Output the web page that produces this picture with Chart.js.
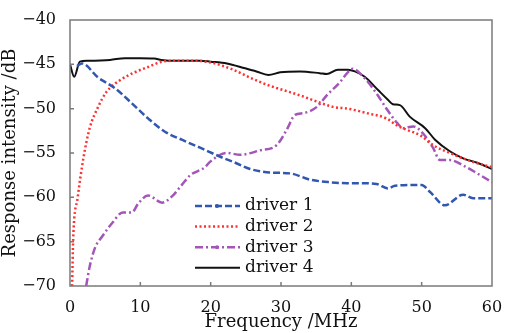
<!DOCTYPE html>
<html lang="en">
<head>
    <meta charset="UTF-8">
    <title>Driver response</title>
    <script src="https://cdn.jsdelivr.net/npm/chart.js"></script>
    <style>
        body {
            margin: 0;
            background: #fff;
        }
        #chart {
            display: block;
        }
    </style>
</head>
<body>
    <canvas id="chart" width="507" height="333"></canvas>

    <script>
        // values (frequency in MHz, level in dB)
        const seriesNames = ['driver 1', 'driver 2', 'driver 3', 'driver 4'];

        const d1Freq = [1, 1.7, 4, 6.4, 8.8, 11.1, 13.5, 15.9, 18.5, 21.3, 23.5, 25.6, 28.4, 31.3, 34.1, 37, 39.4, 41.2, 43.6, 45.2, 46.2, 50, 51.2, 53.3, 55.9, 57.3, 60];
        const d1Vals = [-45.2, -44.9, -46.5, -47.7, -49.4, -51.1, -52.6, -53.5, -54.4, -55.4, -56.1, -56.8, -57.2, -57.3, -58.0, -58.3, -58.4, -58.4, -58.5, -59.0, -58.7, -58.6, -59.4, -60.9, -59.7, -60.1, -60.1];

        const d2Freq = [0.3, 0.45, 1.1, 1.9, 2.8, 4, 5.2, 7.1, 9.2, 11.1, 13.1, 15, 18, 20.3, 23.2, 25.6, 28, 30.3, 32.7, 35.1, 37.4, 39.5, 42.2, 45, 46.5, 47.9, 49.8, 51.6, 54, 57.3, 60];
        const d2Vals = [-70, -64.8, -60, -55.6, -52.2, -49.8, -48.1, -46.8, -45.9, -45.3, -44.7, -44.6, -44.6, -44.85, -45.6, -46.5, -47.3, -47.9, -48.5, -49.2, -49.8, -50.0, -50.5, -51.1, -51.9, -52.4, -53.0, -54.1, -55.0, -56.0, -56.6];

        const d3Freq = [2.3, 2.8, 3.6, 4.5, 6, 7.5, 8.8, 9.7, 11.1, 13.1, 14.5, 15.9, 17.1, 19.2, 19.9, 22.3, 24.2, 27, 29.4, 30.8, 32, 33.2, 35.1, 36.5, 38.4, 39.5, 40.2, 41.7, 43.6, 45, 46.5, 47.4, 48.8, 50.2, 51.6, 52.6, 54, 55.9, 57.9, 60];
        const d3Vals = [-70, -67.8, -65.6, -64.5, -62.9, -61.7, -61.7, -60.7, -59.8, -60.6, -59.9, -58.6, -57.5, -56.6, -56.0, -55.0, -55.2, -54.7, -54.1, -52.4, -50.7, -50.5, -49.8, -48.5, -47.0, -45.9, -45.5, -46.4, -48.3, -50.0, -51.6, -52.2, -52.0, -52.8, -54.4, -55.8, -55.8, -56.4, -57.3, -58.3];

        const d4Freq = [0, 0.6, 1.4, 2.5, 5.7, 7.8, 10, 12, 13, 15, 18.5, 20, 22.3, 24.9, 26.5, 28.2, 29.9, 32.7, 35.5, 36.5, 38.1, 39.5, 40.5, 41.9, 43.8, 45.2, 45.9, 46.9, 48.3, 50.5, 51.9, 54, 55.9, 57.9, 60];
        const d4Vals = [-45.0, -46.4, -44.7, -44.6, -44.5, -44.3, -44.3, -44.35, -44.5, -44.6, -44.6, -44.7, -44.9, -45.45, -45.8, -46.2, -45.9, -45.8, -46.0, -46.1, -45.6, -45.6, -45.8, -46.4, -47.9, -49.0, -49.5, -49.6, -50.9, -52.2, -53.5, -54.8, -55.6, -56.1, -56.8];

        const xTicks = [0, 10, 20, 30, 40, 50, 60];
        const yTicks = [-70, -65, -60, -55, -50, -45, -40];

        const serif = "'DejaVu Serif', serif";

        function points(xs, ys) {
            return xs.map((x, i) => ({ x: x, y: ys[i] }));
        }

        // legend inside the plot + frame and inward ticks
        const framePlugin = {
            id: 'frame',
            afterDraw(chart) {
                const ctx = chart.ctx;
                const a = chart.chartArea;
                const xs = chart.scales.x;
                const ys = chart.scales.y;
                ctx.save();
                ctx.strokeStyle = '#7a7a7a';
                ctx.lineWidth = 1.5;
                ctx.strokeRect(a.left, a.top, a.right - a.left, a.bottom - a.top);
                ctx.beginPath();
                xTicks.slice(1, -1).forEach(v => {
                    const px = xs.getPixelForValue(v);
                    ctx.moveTo(px, a.bottom);
                    ctx.lineTo(px, a.bottom - 4);
                });
                yTicks.slice(1, -1).forEach(v => {
                    const py = ys.getPixelForValue(v);
                    ctx.moveTo(a.left, py);
                    ctx.lineTo(a.left + 4, py);
                });
                ctx.stroke();

                // legend
                chart.data.datasets.forEach((ds, i) => {
                    const y = 206 + i * 20.6;
                    ctx.strokeStyle = ds.borderColor;
                    ctx.lineWidth = ds.borderWidth;
                    ctx.setLineDash(ds.borderDash || []);
                    ctx.beginPath();
                    ctx.moveTo(195, y);
                    ctx.lineTo(240, y);
                    ctx.stroke();
                    ctx.setLineDash([]);
                    if (ds.legendDot) {
                        ctx.fillStyle = ds.borderColor;
                        ctx.beginPath();
                        ctx.arc(217, y, 2, 0, Math.PI * 2);
                        ctx.fill();
                    }
                    ctx.fillStyle = '#111';
                    ctx.font = '17px ' + serif;
                    ctx.textBaseline = 'middle';
                    ctx.textAlign = 'left';
                    ctx.fillText(ds.label, 245, y);
                });
                ctx.restore();
            }
        };

        const ctx = document.getElementById('chart').getContext('2d');
        new Chart(ctx, {
            type: 'line',
            data: {
                datasets: [
                    {
                        label: seriesNames[0],
                        data: points(d1Freq, d1Vals),
                        borderColor: '#3157b0',
                        borderWidth: 2.5,
                        borderDash: [7, 3],
                        legendDot: true
                    },
                    {
                        label: seriesNames[1],
                        data: points(d2Freq, d2Vals),
                        borderColor: '#ff3030',
                        borderWidth: 2.5,
                        borderDash: [2, 2.5]
                    },
                    {
                        label: seriesNames[2],
                        data: points(d3Freq, d3Vals),
                        borderColor: '#a455b8',
                        borderWidth: 2.5,
                        borderDash: [8, 3, 2, 3],
                        legendDot: true
                    },
                    {
                        label: seriesNames[3],
                        data: points(d4Freq, d4Vals),
                        borderColor: '#111111',
                        borderWidth: 2
                    }
                ]
            },
            options: {
                responsive: false,
                animation: false,
                layout: { padding: { top: 20, right: 15, left: 0, bottom: 0 } },
                elements: {
                    point: { radius: 0 },
                    line: { cubicInterpolationMode: 'monotone', fill: false }
                },
                plugins: {
                    legend: { display: false },
                    tooltip: { enabled: false }
                },
                scales: {
                    x: {
                        type: 'linear',
                        min: 0,
                        max: 60,
                        afterBuildTicks: s => { s.ticks = xTicks.map(v => ({ value: v })); },
                        afterFit: s => { s.height = 47; },
                        grid: { display: false },
                        border: { display: false },
                        ticks: { color: '#111', padding: 4, font: { family: serif, size: 16 } },
                        title: {
                            display: true,
                            text: 'Frequency /MHz',
                            color: '#111',
                            padding: { top: 0, bottom: 0 },
                            font: { family: serif, size: 18 }
                        }
                    },
                    y: {
                        min: -70,
                        max: -40,
                        afterBuildTicks: s => { s.ticks = yTicks.map(v => ({ value: v })); },
                        afterFit: s => { s.width = 70; },
                        grid: { display: false },
                        border: { display: false },
                        ticks: {
                            color: '#111',
                            padding: 6,
                            font: { family: serif, size: 16 },
                            callback: v => String(v).replace('-', '\u2212')
                        },
                        title: {
                            display: true,
                            text: 'Response intensity /dB',
                            color: '#111',
                            padding: { top: 0, bottom: 0 },
                            font: { family: serif, size: 18 }
                        }
                    }
                }
            },
            plugins: [framePlugin]
        });
    </script>
</body>
</html>
